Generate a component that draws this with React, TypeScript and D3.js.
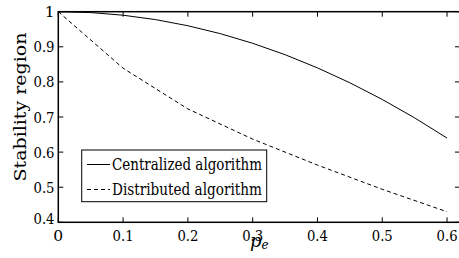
import React from "react";
import * as d3 from "d3";

const pe = [0, 0.05, 0.1, 0.15, 0.2, 0.25, 0.3, 0.35, 0.4, 0.45, 0.5, 0.55, 0.6];
const centralized = [1, 0.9975, 0.99, 0.9775, 0.96, 0.9375, 0.91, 0.8775, 0.84, 0.7975, 0.75, 0.6975, 0.64];
const peDist = [0, 0.1, 0.2, 0.3, 0.4, 0.5, 0.6];
const distributed = [1, 0.839, 0.723, 0.637, 0.563, 0.494, 0.43];
const xTicks = [0, 0.1, 0.2, 0.3, 0.4, 0.5, 0.6];
const yTicks = [0.4, 0.5, 0.6, 0.7, 0.8, 0.9, 1];
const seriesNames = ["Centralized algorithm", "Distributed algorithm"];

const W = 459, H = 258;
const L = 58.3, T = 11.7, R = 460, B = 222.3;
const FONT = "'DejaVu Serif', 'Liberation Serif', serif";

function lbl(t: number) {
  return String(t);
}
function tlen(s: string) {
  return s.length > 1 ? 21 : undefined;
}

export default function App() {
  const x = d3.scaleLinear().domain([0, 0.62]).range([L, R]);
  const y = d3.scaleLinear().domain([0.4, 1]).range([B, T]);
  const line = d3.line<[number, number]>().x(d => x(d[0])).y(d => y(d[1]));
  const cData = pe.map((p, i) => [p, centralized[i]] as [number, number]);
  const dData = peDist.map((p, i) => [p, distributed[i]] as [number, number]);
  const tl = 5;
  const legX = 81.7, legY = 150, legW = 185, legH = 51.7;
  return (
    <svg width={W} height={H} style={{ position: "absolute", left: 0, top: 0, background: "#fff", fontFamily: FONT }}>
      <rect x={0} y={0} width={W} height={H} fill="#fff" />
      <path d={line(cData) || ""} fill="none" stroke="#000" strokeWidth={1} />
      <path d={line(dData) || ""} fill="none" stroke="#000" strokeWidth={1} strokeDasharray="4,3" />
      <rect x={L} y={T} width={R - L} height={B - T} fill="none" stroke="#000" strokeWidth={1.5} />
      {xTicks.map(t => (
        <g key={"x" + t}>
          <line x1={x(t)} x2={x(t)} y1={B} y2={B - tl} stroke="#000" strokeWidth={1} />
          <line x1={x(t)} x2={x(t)} y1={T} y2={T + tl} stroke="#000" strokeWidth={1} />
          <text x={x(t)} y={241} textAnchor="middle" fontSize={15.5} fill="#000"
            textLength={tlen(lbl(t))} lengthAdjust="spacingAndGlyphs">{lbl(t)}</text>
        </g>
      ))}
      {yTicks.map(t => (
        <g key={"y" + t}>
          <line x1={L} x2={L + tl} y1={y(t)} y2={y(t)} stroke="#000" strokeWidth={1} />
          <line x1={R} x2={R - tl} y1={y(t)} y2={y(t)} stroke="#000" strokeWidth={1} />
          <text x={54.5} y={y(t) + (t === 0.4 ? 1.5 : 5.5)} textAnchor="end" fontSize={15.5} fill="#000"
            textLength={tlen(lbl(t))} lengthAdjust="spacingAndGlyphs">{lbl(t)}</text>
        </g>
      ))}
      <text transform={`translate(26,${(T + B) / 2 - 10}) rotate(-90)`} textAnchor="middle" fontSize={17} fill="#000"
        textLength={149} lengthAdjust="spacingAndGlyphs">Stability region</text>
      <text x={250} y={247} fontSize={18} fontStyle="italic" fill="#000">
        p<tspan fontSize={12} dy={2}>e</tspan>
      </text>
      <rect x={legX} y={legY} width={legW} height={legH} fill="#fff" stroke="#000" strokeWidth={1} />
      <line x1={87} x2={110} y1={164.5} y2={164.5} stroke="#000" strokeWidth={1} />
      <line x1={87} x2={110} y1={189.5} y2={189.5} stroke="#000" strokeWidth={1} strokeDasharray="4,3" />
      <text x={112} y={170} fontSize={16} fill="#000" textLength={150} lengthAdjust="spacingAndGlyphs">{seriesNames[0]}</text>
      <text x={112} y={195} fontSize={16} fill="#000" textLength={150} lengthAdjust="spacingAndGlyphs">{seriesNames[1]}</text>
    </svg>
  );
}
